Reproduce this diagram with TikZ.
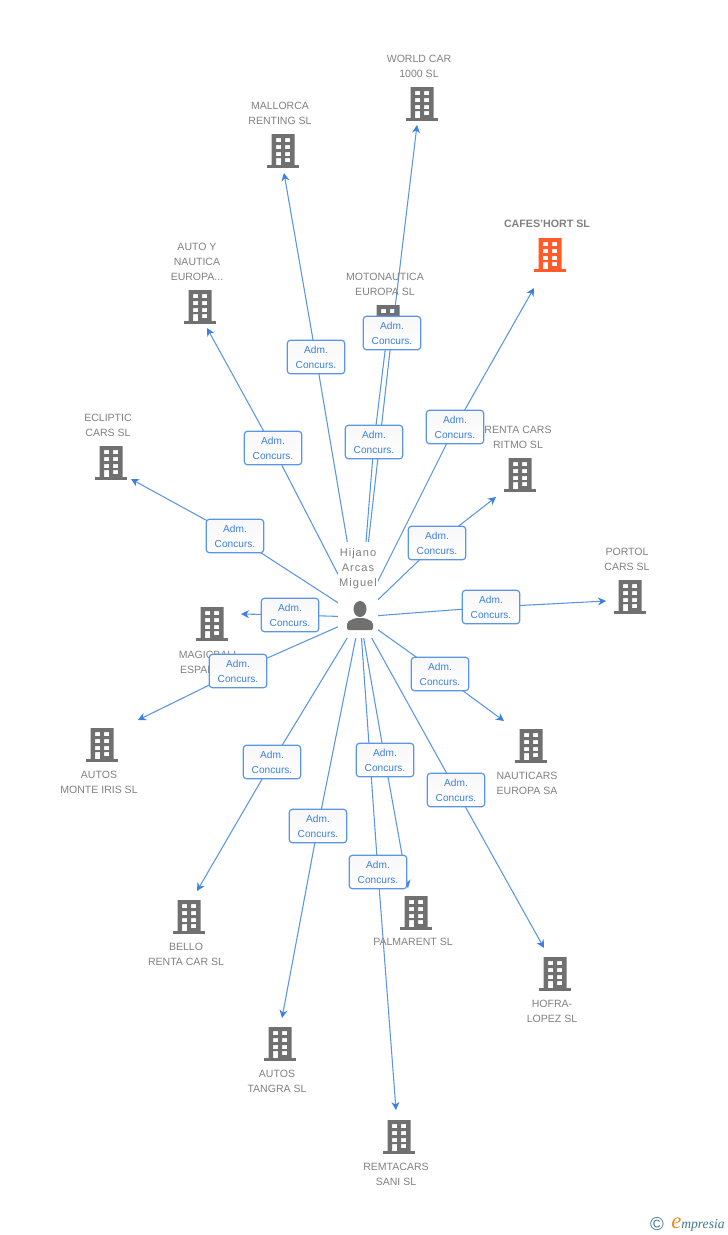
\documentclass[tikz,border=0pt]{standalone}
\usepackage{fontspec}
\setmainfont{Liberation Sans}
\newfontfamily\logofont{Liberation Serif}
\newfontfamily\widefont[LetterSpace=9]{Liberation Sans}
\usetikzlibrary{arrows.meta,backgrounds}
\definecolor{linkblue}{HTML}{5B96E6}
\definecolor{tipblue}{HTML}{3B7FE0}
\definecolor{icongray}{HTML}{707070}
\definecolor{namegray}{HTML}{808080}
\definecolor{hotorange}{HTML}{FF5B2B}
\definecolor{logoteal}{HTML}{3D7A8C}
\definecolor{logoorange}{HTML}{F28A1E}
\tikzset{
  link/.style={linkblue,line width=0.8pt},
  arrowlink/.style={link,-{Stealth[length=6pt,width=6pt,color=tipblue]}},
  rolebox/.style={draw=linkblue,line width=0.9pt,rounded corners=2.2pt,top color=black!3,bottom color=white,
    minimum width=43pt,minimum height=25pt,inner sep=0pt,text=tipblue,align=center,
    font=\fontsize{7.6}{11.2}\selectfont},
  compname/.style={text=namegray,align=center,inner sep=0pt,font=\fontsize{7.9}{11.2}\selectfont},
  hotname/.style={compname,font=\fontsize{8}{11.2}\selectfont\bfseries},
  hubmask/.style={fill=white,inner sep=0pt,minimum width=30pt,minimum height=72pt},
  office/.pic={
    \fill[#1,even odd rule] (-11.5,-17) rectangle (11.5,14)
      \foreach \wy in {-13,-6,1}{ (-7,\wy) rectangle (-2,{\wy+4}) (2,\wy) rectangle (7,{\wy+4}) }
      (-7,7) rectangle (-2,14) (2,7) rectangle (7,11);
    \fill[#1] (-16,14) rectangle (16,17);
  }
}
\newcommand{\roletext}{Adm.\\Concurs.}
\begin{document}
\begin{tikzpicture}[x=0.75pt,y=-0.75pt]
  \useasboundingbox (0,0) rectangle (728,1235);
  \node[hubmask] (hub) at (358,590) {};
  \node[inner sep=0pt] (person) at (360,617) {};
  \node[compname,text width=40pt,font=\fontsize{8.3}{11.2}\selectfont\widefont] (personname) at (358,569) {Hijano\\Arcas\\Miguel};
  % head and shoulders
  \fill[icongray] (360,609) ellipse (6.5 and 8);
  \fill[icongray,rounded corners=1.5pt] (347,630) -- (347,622) -- (355,618) -- (365,618) -- (373,622) -- (373,630) -- cycle;
  % name / building / arrow tip / box / label
  \foreach \nm/\bx/\by/\tx/\ty/\rx/\ry/\lx/\ly/\col/\sty/\txt in {
      world/422/104/417/125/392/333/419/66/icongray/compname/{WORLD CAR\\1000 SL},
      mallorca/283/151/284/173/316/357/280/113/icongray/compname/{MALLORCA\\RENTING SL},
      autoy/200/307/207/328/273/448/197/262/icongray/compname/{AUTO Y\\NAUTICA\\EUROPA...},
      moto/388/322/387/335/374/442/385/284/icongray/compname/{MOTONAUTICA\\EUROPA SL},
      ecliptic/111/463/131/479/235/536/108/425/icongray/compname/{ECLIPTIC\\CARS SL},
      cafes/550/255/534/288/455/427/547/224/hotorange/hotname/{CAFES'HORT SL},
      renta/520/475/496/497/437/543/518/437/icongray/compname/{RENTA CARS\\RITMO SL},
      portol/630/597/606/601/491/607/627/559/icongray/compname/{PORTOL\\CARS SL},
      magic/212/624/241/614/290/615/209/662/icongray/compname/{MAGICBALL\\ESPAÑA SL},
      monte/102/745/138/720/238/671/99/782/icongray/compname/{AUTOS\\MONTE IRIS SL},
      nauti/531/746/504/721/440/674/527/783/icongray/compname/{NAUTICARS\\EUROPA SA},
      hofra/555/974/544/948/456/790/552/1011/icongray/compname/{HOFRA-\\LOPEZ SL},
      palma/416/913/408/888/385/760/413/942/icongray/compname/{PALMARENT SL},
      remta/399/1137/396/1110/378/872/396/1174/icongray/compname/{REMTACARS\\SANI SL},
      tangra/280/1044/282/1018/318/826/277/1081/icongray/compname/{AUTOS\\TANGRA SL},
      bello/189/917/197/891/272/762/186/954/icongray/compname/{BELLO\\RENTA CAR SL}}{
    \coordinate (\nm-tip) at (\tx,\ty);
    \node[rolebox] (\nm-box) at (\rx,\ry) {\roletext};
    \begin{pgfonlayer}{background}
      \pic at (\bx,\by) {office=\col};
      \node[\sty] (\nm-name) at (\lx,\ly) {\txt};
      \draw[link] (person.center) -- (\nm-box.center);
      \draw[arrowlink] (\nm-box.center) -- (\nm-tip);
    \end{pgfonlayer}
  }
  % logo
  \node[text=logoteal,inner sep=0pt,font=\fontsize{14}{14}\selectfont] (copyright) at (657,1224) {©};
  \node[inner sep=0pt,anchor=base west] (logo) at (671,1228) {\logofont\itshape
    \textcolor{logoorange}{\fontsize{17}{17}\selectfont e}\textcolor{logoteal}{\fontsize{10.2}{10}\selectfont mpresia}};
\end{tikzpicture}
\end{document}
